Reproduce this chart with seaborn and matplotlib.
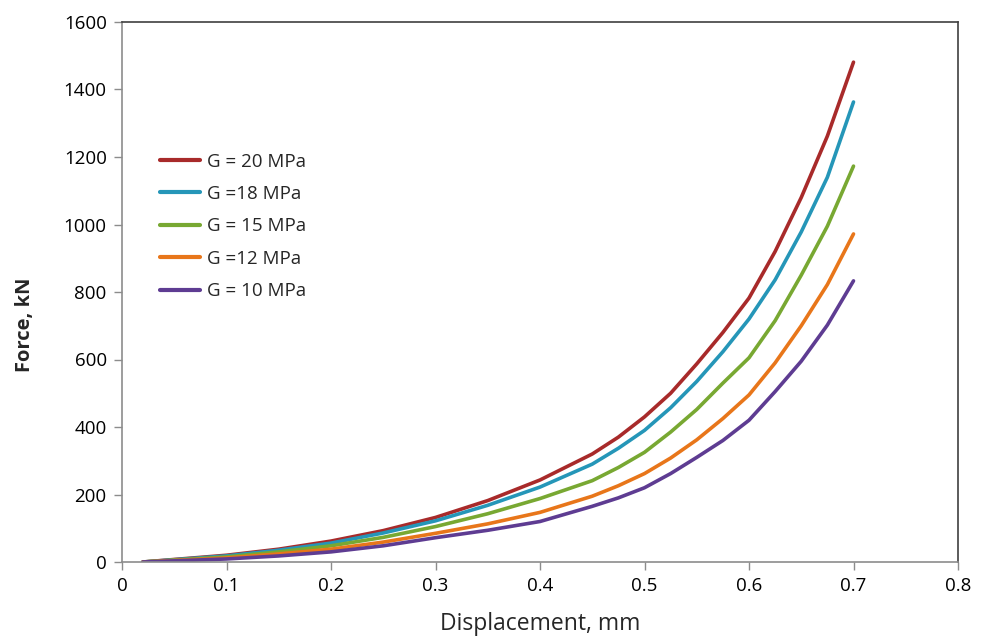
import matplotlib
matplotlib.use("Agg")
import matplotlib.pyplot as plt
import seaborn as sns
import pandas as pd

# Displacement (mm)
displacement = [0.02, 0.1, 0.15, 0.2, 0.25, 0.3, 0.35, 0.4, 0.45, 0.475, 0.5,
                0.525, 0.55, 0.575, 0.6, 0.625, 0.65, 0.675, 0.7]

# Force (kN) for each shear modulus
force_g20 = [0, 20, 38, 62, 93, 132, 182, 243, 320, 370, 430,
             500, 587, 680, 782, 920, 1080, 1262, 1481]
force_g18 = [0, 18, 35, 56, 86, 122, 168, 222, 290, 337, 390,
             457, 535, 623, 720, 836, 978, 1140, 1363]
force_g15 = [0, 15, 30, 48, 73, 105, 143, 188, 241, 280, 325,
             385, 452, 530, 605, 715, 850, 995, 1173]
force_g12 = [0, 12, 24, 38, 59, 85, 113, 147, 195, 226, 262,
             308, 362, 425, 495, 590, 700, 822, 972]
force_g10 = [0, 9, 18, 30, 48, 72, 94, 120, 165, 190, 220,
             262, 310, 360, 420, 505, 595, 702, 833]

series_labels = ["G = 20 MPa", "G =18 MPa", "G = 15 MPa", "G =12 MPa", "G = 10 MPa"]
series_values = [force_g20, force_g18, force_g15, force_g12, force_g10]
colors = ["#A82A2A", "#2596B8", "#78A832", "#E8761A", "#5E3C92"]

x_ticks = [0, 0.1, 0.2, 0.3, 0.4, 0.5, 0.6, 0.7, 0.8]
x_tick_labels = ["0", "0.1", "0.2", "0.3", "0.4", "0.5", "0.6", "0.7", "0.8"]
y_ticks = [0, 200, 400, 600, 800, 1000, 1200, 1400, 1600]

rows = []
for lab, vals in zip(series_labels, series_values):
    for xv, yv in zip(displacement, vals):
        rows.append({"Displacement": xv, "Force": yv, "Series": lab})
df = pd.DataFrame(rows)

sns.set_style("white")
plt.rcParams["font.family"] = ["Open Sans", "DejaVu Sans"]

fig = plt.figure(figsize=(9.84, 6.38), dpi=100)
ax = fig.add_axes([122 / 984, 76 / 638, 836 / 984, 540 / 638])

sns.lineplot(data=df, x="Displacement", y="Force", hue="Series",
             hue_order=series_labels, palette=colors, linewidth=2.6,
             estimator=None, sort=False, ax=ax)

ax.set_xlim(0, 0.8)
ax.set_ylim(0, 1600)
ax.set_xticks(x_ticks)
ax.set_xticklabels(x_tick_labels)
ax.set_yticks(y_ticks)
ax.tick_params(axis="both", direction="out", length=6, width=1,
               color="#8c8c8c", labelsize=13.5, labelcolor="black",
               bottom=True, left=True, pad=5)

for side in ["left", "bottom"]:
    ax.spines[side].set_color("#8c8c8c")
    ax.spines[side].set_linewidth(1.2)
for side in ["top", "right"]:
    ax.spines[side].set_color("#404040")
    ax.spines[side].set_linewidth(1.2)

ax.set_xlabel("Displacement, mm", fontsize=16.5)
ax.xaxis.set_label_coords(0.5, (562 - 624) / 540, transform=ax.transAxes)
ax.xaxis.label.set_va("center")
ax.set_ylabel("Force, kN", fontsize=14.5, fontweight="bold")
ax.yaxis.set_label_coords((25 - 122) / 836, (562 - 325) / 540, transform=ax.transAxes)
ax.yaxis.label.set_va("center")

leg = ax.legend(loc="upper left", bbox_to_anchor=(0.0365, 0.772), frameon=False,
                fontsize=13.5, handlelength=2.13, handletextpad=0.37,
                labelspacing=0.77, borderaxespad=0)
for line in leg.get_lines():
    line.set_linewidth(3)

fig.savefig("out.png", dpi=100)
